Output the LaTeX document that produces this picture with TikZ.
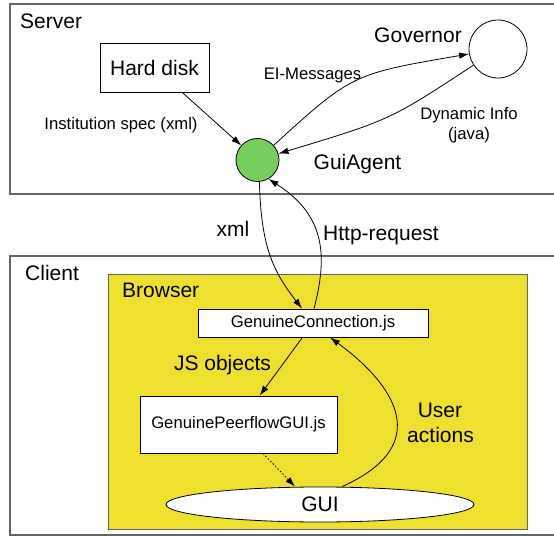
\documentclass[tikz,border=0pt]{standalone}
\usepackage{fontspec}
\setmainfont{Liberation Sans}
\usetikzlibrary{arrows.meta,shapes.geometric,calc}
\definecolor{agentgreen}{RGB}{120,205,95}
\definecolor{browseryellow}{RGB}{239,224,48}
\definecolor{framegray}{RGB}{100,100,100}
\begin{document}
\begin{tikzpicture}[x=1pt,y=-1pt,
  big/.style={font=\fontsize{21}{25}\selectfont},
  small/.style={font=\fontsize{16.7}{20}\selectfont},
  frame/.style={draw=framegray,line width=1.3pt},
  box/.style={draw=black,line width=0.8pt,fill=white,inner sep=0},
  arr/.style={-{Latex[length=10pt,width=6.5pt]},line width=0.8pt},
  lbl/.style={inner sep=0,anchor=base}]
\useasboundingbox (0,0) rectangle (554,537);
\clip (0,0) rectangle (554,537);
\fill[white] (0,0) rectangle (554,537);
% frames
\draw[frame] (10,4) rectangle (570,194);
\draw[frame] (10,256) rectangle (570,535);
\draw[draw=framegray,line width=0.9pt,fill=browseryellow] (108,274) rectangle (527,529);
% frame labels
\node[lbl,big,anchor=base west] (serverlbl) at (20,29) {Server};
\node[lbl,big,anchor=base west] (clientlbl) at (25,281) {Client};
\node[lbl,big,anchor=base west] (browserlbl) at (122,298) {Browser};
% nodes
\node[box,big,minimum width=109pt,minimum height=49pt] (hd) at (154.5,67.5) {Hard disk};
\node[circle,draw,line width=0.8pt,fill=agentgreen,minimum size=43pt,inner sep=0] (ga) at (257.5,160) {};
\node[circle,draw,line width=0.8pt,fill=white,minimum size=58pt,inner sep=0] (gov) at (498,49) {};
\node[box,small,minimum width=230pt,minimum height=28pt] (gc) at (313,323) {GenuineConnection.js};
\node[box,small,minimum width=197pt,minimum height=57pt] (gpg) at (238.5,424.5) {GenuinePeerflowGUI.js};
\node[ellipse,draw,line width=0.8pt,fill=white,minimum width=308pt,minimum height=35pt,inner sep=0,big] (gui) at (320,504.5) {GUI};
% node labels
\node[lbl,big] (govlbl) at (418,43) {Governor};
\node[lbl,big] (galbl) at (357.5,170) {GuiAgent};
% edges
\draw[arr] (hd) -- (ga);
\draw[arr] (ga) .. controls (352,74) .. (gov);
\draw[arr] (gov) .. controls (390,120) .. (ga);
\draw[arr] (ga.-85) .. controls (261,245) and (272,270) .. ([xshift=-11pt]gc.north);
\draw[arr] ([xshift=1pt]gc.north) .. controls (328,255) and (325,215) .. (ga.-60);
\draw[arr] (gc) -- (gpg);
\draw[arr,dash pattern=on 1.5pt off 2pt] ([xshift=24.5pt]gpg.south) -- ([xshift=-25pt]gui.north);
\draw[arr] ([xshift=22pt]gui.north) .. controls (435,445) and (395,385) .. ([xshift=17pt]gc.south);
% edge labels
\node[lbl,small] (instlbl) at (121,130) {Institution spec (xml)};
\node[lbl,small] (eilbl) at (312.5,80) {EI-Messages};
\node[lbl,small] (dynlbl) at (469,120) {Dynamic Info};
\node[lbl,small] (javalbl) at (469,140) {(java)};
\node[lbl,big] (xmllbl) at (233,237) {xml};
\node[lbl,big] (httplbl) at (381,241) {Http-request};
\node[lbl,big] (jslbl) at (222.5,370) {JS objects};
\node[lbl,big] (userlbl) at (440,417) {User};
\node[lbl,big] (actlbl) at (440.5,442) {actions};
\end{tikzpicture}
\end{document}
